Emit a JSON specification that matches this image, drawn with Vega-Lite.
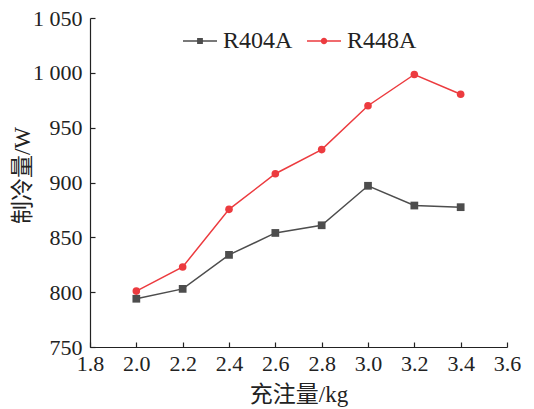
{
  "$schema": "https://vega.github.io/schema/vega-lite/v6.json",
  "width": 417,
  "height": 329,
  "autosize": "none",
  "padding": {"left": 90, "top": 18, "right": 27, "bottom": 62},
  "background": "white",
  "config": {
    "view": {"stroke": null},
    "font": "Liberation Serif",
    "axis": {
      "grid": false,
      "domainColor": "#222",
      "tickColor": "#222",
      "domainWidth": 1.2,
      "tickWidth": 1.2,
      "labelColor": "#222",
      "titleColor": "#222",
      "labelFont": "Liberation Serif",
      "labelFontSize": 22,
      "titleFont": "Liberation Serif, Noto Sans CJK SC",
      "titleFontSize": 23,
      "titleFontWeight": "normal"
    }
  },
  "data": {
    "values": [
      {"charge": 2.0, "cap": 794, "series": "R404A"},
      {"charge": 2.2, "cap": 803, "series": "R404A"},
      {"charge": 2.4, "cap": 834, "series": "R404A"},
      {"charge": 2.6, "cap": 854, "series": "R404A"},
      {"charge": 2.8, "cap": 861, "series": "R404A"},
      {"charge": 3.0, "cap": 897, "series": "R404A"},
      {"charge": 3.2, "cap": 879, "series": "R404A"},
      {"charge": 3.4, "cap": 877.5, "series": "R404A"},
      {"charge": 2.0, "cap": 801, "series": "R448A"},
      {"charge": 2.2, "cap": 823, "series": "R448A"},
      {"charge": 2.4, "cap": 875.5, "series": "R448A"},
      {"charge": 2.6, "cap": 908, "series": "R448A"},
      {"charge": 2.8, "cap": 930, "series": "R448A"},
      {"charge": 3.0, "cap": 970, "series": "R448A"},
      {"charge": 3.2, "cap": 998.5, "series": "R448A"},
      {"charge": 3.4, "cap": 980.5, "series": "R448A"}
    ]
  },
  "encoding": {
    "x": {
      "field": "charge", "type": "quantitative",
      "scale": {"domain": [1.8, 3.6], "nice": false, "zero": false},
      "axis": {"title": "充注量/kg", "values": [1.8, 2.0, 2.2, 2.4, 2.6, 2.8, 3.0, 3.2, 3.4, 3.6], "format": ".1f", "tickSize": -5, "labelPadding": 11, "titlePadding": 9, "labelFlush": false, "labelOverlap": false}
    },
    "y": {
      "field": "cap", "type": "quantitative",
      "scale": {"domain": [750, 1050], "nice": false, "zero": false},
      "axis": {"title": "制冷量/W", "values": [750, 800, 850, 900, 950, 1000, 1050], "labelExpr": "replace(format(datum.value, ','), ',', ' ')", "tickSize": -5, "labelPadding": 13, "titleX": -68, "titleY": 157, "titleBaseline": "middle", "titleAlign": "center", "labelFlush": false, "labelOverlap": false}
    }
  },
  "layer": [
    {
      "mark": {"type": "line", "strokeWidth": 1.5},
      "encoding": {
        "color": {
          "field": "series", "type": "nominal",
          "scale": {"domain": ["R404A", "R448A"], "range": ["#4d4d4d", "#ec3b3f"]},
          "legend": {
            "title": null,
            "orient": "none",
            "legendX": 93,
            "legendY": 6,
            "direction": "horizontal",
            "labelFont": "Liberation Serif",
            "labelFontSize": 24,
            "labelColor": "#222",
            "labelOffset": 6,
            "columnPadding": 14,
            "symbolSize": 1156,
            "symbolType": "M-1,-0.044H1V0.044H-1Z",
            "symbolStrokeWidth": 0,
            "encode": {
              "symbols": {
                "update": {
                  "shape": {"signal": "datum.value === 'R404A' ? 'M-1,-0.044H1V0.044H-1Z M-0.17,-0.17H0.17V0.17H-0.17Z' : 'M-1,-0.044H1V0.044H-1Z M0.19,0A0.19,0.19 0 1,1 -0.19,0A0.19,0.19 0 1,1 0.19,0Z'"},
                  "fill": {"signal": "datum.value === 'R404A' ? '#4d4d4d' : '#ec3b3f'"},
                  "fillOpacity": {"value": 1},
                  "strokeWidth": {"value": 0}
                }
              }
            }
          }
        }
      }
    },
    {
      "transform": [{"filter": "datum.series === 'R404A'"}],
      "mark": {"type": "point", "shape": "square", "filled": true, "opacity": 1, "size": 60},
      "encoding": {"color": {"field": "series", "type": "nominal", "legend": null}}
    },
    {
      "transform": [{"filter": "datum.series === 'R448A'"}],
      "mark": {"type": "point", "shape": "circle", "filled": true, "opacity": 1, "size": 58},
      "encoding": {"color": {"field": "series", "type": "nominal", "legend": null}}
    }
  ]
}
